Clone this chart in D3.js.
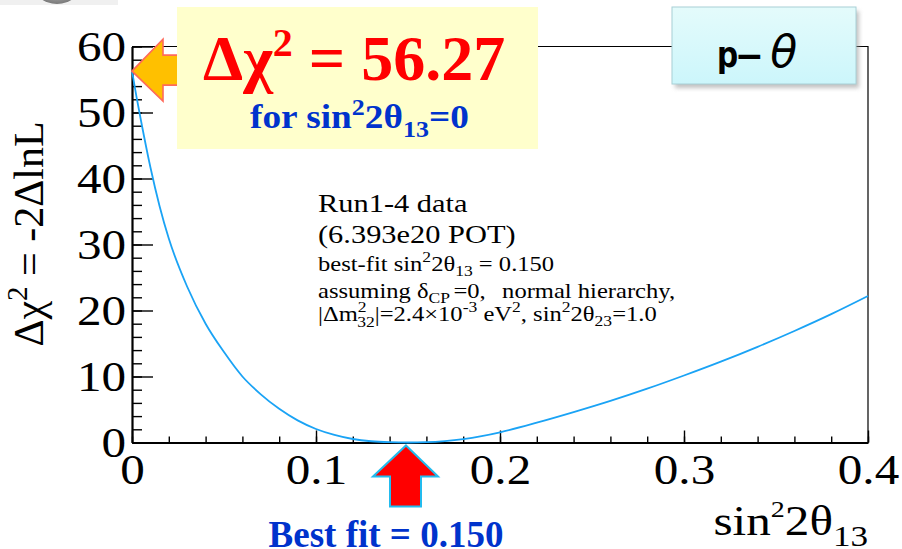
<!DOCTYPE html>
<html>
<head>
<meta charset="utf-8">
<script src="https://cdn.jsdelivr.net/npm/d3@7"></script>
<style>
  html, body { margin: 0; padding: 0; background: #fff; }
  svg { display: block; }
</style>
</head>
<body>
<svg id="chart" width="902" height="549"></svg>
<script>
// Δχ² profile versus sin²2θ13
const sin2Values = [0, 0.0025, 0.005, 0.01, 0.015, 0.02, 0.03, 0.04, 0.05, 0.06, 0.07, 0.08, 0.09, 0.10,
  0.11, 0.12, 0.13, 0.14, 0.15, 0.16, 0.17, 0.18, 0.19, 0.20, 0.22, 0.24, 0.26, 0.28,
  0.30, 0.32, 0.34, 0.36, 0.38, 0.40];
const deltaChi2 = [56.27, 52.3, 48.6, 41.7, 35.8, 30.9, 23.6, 18.0, 13.7, 10.0, 7.3, 5.1, 3.35, 2.05,
  1.15, 0.53, 0.19, 0.045, 0.0, 0.05, 0.22, 0.52, 0.97, 1.55, 3.0, 4.6, 6.3, 8.15,
  10.15, 12.25, 14.5, 16.9, 19.45, 22.2];
const xTickValues = [0, 0.1, 0.2, 0.3, 0.4];
const yTickValues = [0, 10, 20, 30, 40, 50, 60];
const chi2AtZero = 56.27;
const bestFit = 0.150;

const svg = d3.select("#chart");
const serif = "'Liberation Serif', 'Times New Roman', serif";
// the plot's lettering is set slightly wide
const wide = 1.17;

const x = d3.scaleLinear().domain([0, 0.4]).range([132, 868]);
const y = d3.scaleLinear().domain([0, 60]).range([442.5, 46.5]);

// text placed at (px, py), stretched horizontally by k about its anchor
function wideText(px, py, k) {
  return svg.append("g").attr("transform", `translate(${px},${py}) scale(${k},1)`).append("text");
}

// small slide decoration at the very top
const defs = svg.append("defs");
const grey = defs.append("radialGradient").attr("id", "greyBall");
grey.append("stop").attr("offset", "0%").attr("stop-color", "#e8e8e8");
grey.append("stop").attr("offset", "100%").attr("stop-color", "#7a7a7a");
svg.append("rect").attr("x", 0).attr("y", 0).attr("width", 118).attr("height", 5).attr("fill", "#f0f0f0");
svg.append("ellipse").attr("cx", 57).attr("cy", -18).attr("rx", 25).attr("ry", 22).attr("fill", "url(#greyBall)");

// frame: top and right edges
svg.append("path")
  .attr("d", `M${x(0)},${y(60)}H${x(0.4)}V${y(0)}`)
  .attr("fill", "none").attr("stroke", "#000").attr("stroke-width", 1.2);

// x axis with minor ticks
const xMinor = d3.range(0, 0.4001, 0.02);
svg.append("g").attr("transform", `translate(0,${y(0)})`)
  .call(d3.axisBottom(x).tickValues(xMinor).tickSize(-6).tickFormat(""))
  .call(g => g.select(".domain").remove())
  .call(g => g.selectAll("line").attr("stroke-width", 1.4));
const xAxis = svg.append("g").attr("transform", `translate(0,${y(0)})`)
  .call(d3.axisBottom(x).tickValues(xTickValues).tickSize(-12).tickSizeOuter(0).tickPadding(12)
    .tickFormat(d => d === 0 ? "0" : d3.format(".1f")(d)));
xAxis.select(".domain").attr("stroke-width", 2.2);
xAxis.selectAll("line").attr("stroke-width", 1.4);
xAxis.selectAll("text").attr("font-family", serif).attr("font-size", 42).attr("fill", "#000")
  .attr("transform", `scale(${wide},1)`);

// y axis with minor ticks
const yMinor = d3.range(0, 60.001, 2);
svg.append("g").attr("transform", `translate(${x(0)},0)`)
  .call(d3.axisLeft(y).tickValues(yMinor).tickSize(-10).tickFormat(""))
  .call(g => g.select(".domain").remove())
  .call(g => g.selectAll("line").attr("stroke-width", 1.4));
const yAxis = svg.append("g").attr("transform", `translate(${x(0)},0)`)
  .call(d3.axisLeft(y).tickValues(yTickValues).tickSize(-21).tickSizeOuter(0).tickPadding(5));
yAxis.select(".domain").attr("stroke-width", 2.2);
yAxis.selectAll("line").attr("stroke-width", 1.4);
yAxis.selectAll("text").attr("font-family", serif).attr("font-size", 42).attr("fill", "#000")
  .attr("dy", "0.34em").attr("transform", `scale(${wide},1)`);

// Δχ² curve
const line = d3.line().x((d, i) => x(sin2Values[i])).y(d => y(d)).curve(d3.curveMonotoneX);
svg.append("path").datum(deltaChi2)
  .attr("d", line)
  .attr("fill", "none").attr("stroke", "#1aa3f5").attr("stroke-width", 1.8);

// axis titles
const xTitle = wideText(868, 535, wide).attr("text-anchor", "end")
  .attr("font-family", serif).attr("font-size", 42);
xTitle.append("tspan").text("sin");
xTitle.append("tspan").attr("font-size", 24).attr("dy", -18).text("2");
xTitle.append("tspan").attr("dy", 18).text("2θ");
xTitle.append("tspan").attr("font-size", 30).attr("dy", 11).text("13");

const yTitle = svg.append("text").attr("transform", `translate(43,234) rotate(-90)`)
  .attr("text-anchor", "middle").attr("font-family", serif).attr("font-size", 42);
yTitle.append("tspan").text("Δχ");
yTitle.append("tspan").attr("font-size", 29).attr("dy", -16).text("2");
yTitle.append("tspan").attr("dy", 16).text(" = -2ΔlnL");

// fit description
const addNote = (py, size) => wideText(318, py, wide).attr("font-family", serif).attr("font-size", size).attr("fill", "#000");
addNote(212, 26).text("Run1-4 data");
addNote(243, 26).text("(6.393e20 POT)");
const l3 = addNote(271, 21);
l3.append("tspan").text("best-fit sin");
l3.append("tspan").attr("font-size", 15).attr("dy", -9).text("2");
l3.append("tspan").attr("dy", 9).text("2θ");
l3.append("tspan").attr("font-size", 15).attr("dy", 5).text("13");
l3.append("tspan").attr("dy", -5).text(" = " + d3.format(".3f")(bestFit));
const l4 = addNote(298, 21);
l4.append("tspan").text("assuming δ");
l4.append("tspan").attr("font-size", 15).attr("dy", 5).text("CP");
l4.append("tspan").attr("dy", -5).attr("dx", 3).text("=0,");
l4.append("tspan").attr("dx", 14).text("normal hierarchy,");
const l5 = addNote(321, 21);
l5.append("tspan").text("|Δm");
l5.append("tspan").attr("font-size", 15).attr("dy", -9).text("2");
l5.append("tspan").attr("font-size", 15).attr("dx", -8).attr("dy", 15).text("32");
l5.append("tspan").attr("dy", -6).text("|=2.4×10");
l5.append("tspan").attr("font-size", 15).attr("dy", -9).text("-3");
l5.append("tspan").attr("dy", 9).text(" eV");
l5.append("tspan").attr("font-size", 15).attr("dy", -9).text("2");
l5.append("tspan").attr("dy", 9).text(", sin");
l5.append("tspan").attr("font-size", 15).attr("dy", -9).text("2");
l5.append("tspan").attr("dy", 9).text("2θ");
l5.append("tspan").attr("font-size", 15).attr("dy", 5).text("23");
l5.append("tspan").attr("dy", -5).text("=1.0");

// orange arrow pointing at Δχ² at sin²2θ13 = 0
const ax0 = x(0), ay0 = y(chi2AtZero);
svg.append("path")
  .attr("d", `M${ax0},${ay0} L${ax0 + 31},${ay0 - 32} L${ax0 + 31},${ay0 - 16} L${ax0 + 50},${ay0 - 16}
              L${ax0 + 50},${ay0 + 14} L${ax0 + 31},${ay0 + 14} L${ax0 + 31},${ay0 + 30} Z`)
  .attr("fill", "#ffc000").attr("stroke", "#ff6a5a").attr("stroke-width", 1.6).attr("stroke-linejoin", "miter");

// highlighted value box
svg.append("rect").attr("x", 177).attr("y", 7).attr("width", 361).attr("height", 142).attr("fill", "#ffffcc");
const big = svg.append("text").attr("x", 203).attr("y", 80).attr("font-family", serif)
  .attr("font-weight", "bold").attr("font-size", 64).attr("fill", "#ff0000");
big.append("tspan").text("Δχ");
big.append("tspan").attr("font-size", 40).attr("dy", -24).text("2");
big.append("tspan").attr("dy", 24).text(" = " + d3.format(".2f")(chi2AtZero));
const sub = wideText(250, 128, 1.13).attr("font-family", serif)
  .attr("font-weight", "bold").attr("font-size", 33).attr("fill", "#0033cc");
sub.append("tspan").text("for sin");
sub.append("tspan").attr("font-size", 23).attr("dy", -13).text("2");
sub.append("tspan").attr("dy", 13).text("2θ");
sub.append("tspan").attr("font-size", 23).attr("dy", 9).text("13");
sub.append("tspan").attr("dy", -9).text("=0");

// method label box
const cyan = defs.append("linearGradient").attr("id", "cyanFill").attr("x1", 0).attr("y1", 0).attr("x2", 0).attr("y2", 1);
cyan.append("stop").attr("offset", "0%").attr("stop-color", "#e4fbfb");
cyan.append("stop").attr("offset", "100%").attr("stop-color", "#ccf6fb");
const blur = defs.append("filter").attr("id", "shadow").attr("x", "-10%").attr("y", "-10%").attr("width", "130%").attr("height", "140%");
blur.append("feGaussianBlur").attr("stdDeviation", 2);
svg.append("rect").attr("x", 675).attr("y", 11).attr("width", 184).attr("height", 77)
  .attr("fill", "#9a9a9a").attr("opacity", 0.6).attr("filter", "url(#shadow)");
svg.append("rect").attr("x", 672).attr("y", 7).attr("width", 184).attr("height", 77)
  .attr("fill", "url(#cyanFill)").attr("stroke", "#a8d0d6").attr("stroke-width", 1);
const method = svg.append("text").attr("x", 757).attr("y", 67).attr("text-anchor", "middle").attr("fill", "#000");
method.append("tspan").attr("font-family", "'DejaVu Sans Mono', monospace").attr("font-weight", "bold")
  .attr("font-size", 36).text("p\u2013");
method.append("tspan").attr("font-family", "'DejaVu Sans', sans-serif").attr("font-style", "italic")
  .attr("dx", 10).attr("font-size", 44).text("θ");

// red arrow marking the best fit
const bx = x(bestFit) - 2, by = y(0) + 3;
svg.append("path")
  .attr("d", `M${bx},${by} L${bx + 32},${by + 31} L${bx + 15},${by + 31} L${bx + 15},${by + 61}
              L${bx - 16},${by + 61} L${bx - 16},${by + 31} L${bx - 33},${by + 31} Z`)
  .attr("fill", "#ff0000").attr("stroke", "#22bbee").attr("stroke-width", 2).attr("stroke-linejoin", "miter");
svg.append("text").attr("x", 386).attr("y", 547).attr("text-anchor", "middle").attr("font-family", serif)
  .attr("font-weight", "bold").attr("font-size", 37).attr("fill", "#0033cc")
  .text("Best fit = " + d3.format(".3f")(bestFit));
</script>
</body>
</html>
